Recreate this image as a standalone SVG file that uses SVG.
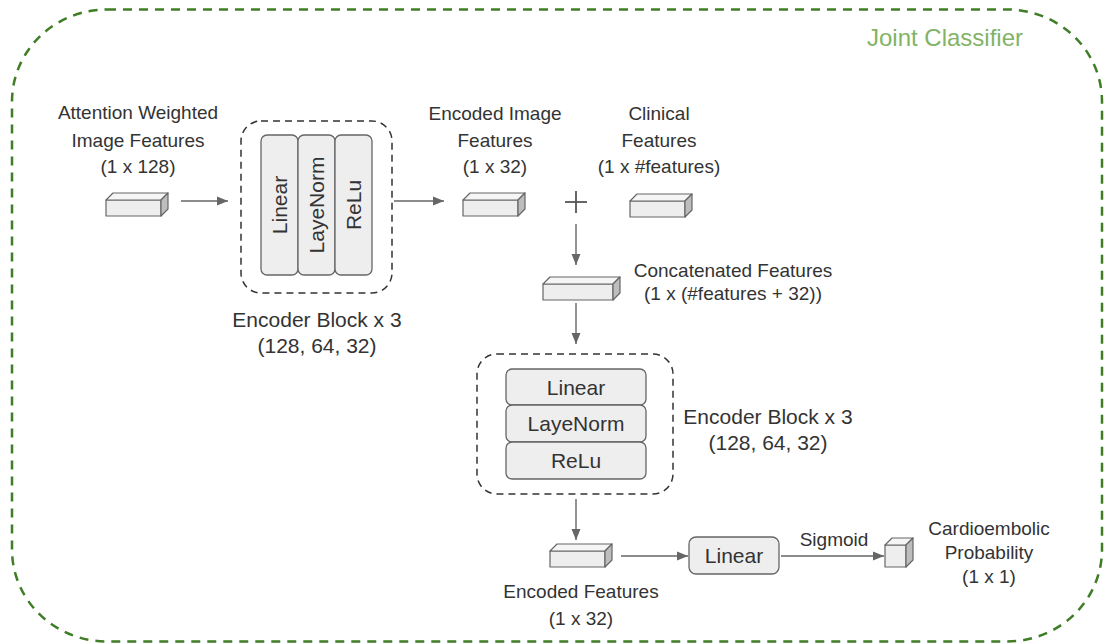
<svg xmlns="http://www.w3.org/2000/svg" xmlns:xlink="http://www.w3.org/1999/xlink" width="1105" height="644" viewBox="0 0 1105 644">
<style>
.lbl{font-family:"Liberation Sans",Arial,Helvetica,sans-serif;font-size:19px;fill:#333333;text-anchor:middle}
.big{font-size:21px}
.bt{font-size:21px}
.bar{fill:#eeeeee;stroke:#666666;stroke-width:1.3}
.dash{fill:none;stroke:#333333;stroke-width:1.5;stroke-dasharray:7 5}
.conn{fill:none;stroke:#666666;stroke-width:1.4}
.front{fill:#eeeeee;stroke:#666666;stroke-width:1.2;stroke-linejoin:round}
.top{fill:#f5f5f5;stroke:#666666;stroke-width:1.2;stroke-linejoin:round}
.side{fill:#bdbdbd;stroke:#666666;stroke-width:1.2;stroke-linejoin:round}
</style>
<defs>
<marker id="ah" markerWidth="12" markerHeight="10" refX="11" refY="5" orient="auto" markerUnits="userSpaceOnUse">
<path d="M0,0.5 L11,5 L0,9.5 Z" fill="#666666"/>
</marker>
<g id="cub">
<rect class="front" x="0" y="7" width="55" height="16"/>
<path class="top" d="M0,7 L7,0 L62,0 L55,7 Z"/>
<path class="side" d="M55,7 L62,0 L62,16 L55,23 Z"/>
</g>
<g id="cubL">
<rect class="front" x="0" y="7" width="70" height="16"/>
<path class="top" d="M0,7 L7,0 L77,0 L70,7 Z"/>
<path class="side" d="M70,7 L77,0 L77,16 L70,23 Z"/>
</g>
<g id="cubS">
<rect class="front" x="0" y="7" width="21" height="22"/>
<path class="top" d="M0,7 L7,0 L28,0 L21,7 Z"/>
<path class="side" d="M21,7 L28,0 L28,22 L21,29 Z"/>
</g>
</defs>
<rect width="1105" height="644" fill="#ffffff"/>

<g id="joint-classifier">
<rect x="12" y="9.5" width="1090" height="632" rx="95" ry="92" fill="none" stroke="#3f7d26" stroke-width="2.5" stroke-dasharray="9 7"/>
<text x="1023" y="46" style="font-family:'Liberation Sans',Arial,sans-serif;font-size:24px;fill:#82b366;text-anchor:end">Joint Classifier</text>
</g>

<g id="connectors">
<line class="conn" x1="181" y1="201" x2="228" y2="201" marker-end="url(#ah)"/>
<line class="conn" x1="394" y1="201" x2="444" y2="201" marker-end="url(#ah)"/>
<line class="conn" x1="576" y1="224" x2="576" y2="265" marker-end="url(#ah)"/>
<line class="conn" x1="576" y1="303" x2="576" y2="344" marker-end="url(#ah)"/>
<line class="conn" x1="576" y1="499" x2="576" y2="540" marker-end="url(#ah)"/>
<line class="conn" x1="621" y1="556" x2="688" y2="556" marker-end="url(#ah)"/>
<line class="conn" x1="781" y1="556" x2="884" y2="556" marker-end="url(#ah)"/>
<text class="lbl" x="834" y="546">Sigmoid</text>
</g>

<g id="image-features">
<use xlink:href="#cub" transform="translate(106,193)"/>
<text class="lbl" x="138" y="119">Attention Weighted</text>
<text class="lbl" x="138" y="147">Image Features</text>
<text class="lbl" x="138" y="173">(1 x 128)</text>
</g>

<g id="encoder-block-1">
<rect class="dash" x="241" y="121" width="151" height="172" rx="20" ry="20"/>
<rect class="bar" x="261" y="135" width="37" height="140" rx="6"/>
<rect class="bar" x="298" y="135" width="37" height="140" rx="6"/>
<rect class="bar" x="335" y="135" width="37" height="140" rx="6"/>
<text class="lbl bt" x="279.5" y="212.5" transform="rotate(-90 279.5 205)">Linear</text>
<text class="lbl bt" x="316.5" y="212.5" transform="rotate(-90 316.5 205)">LayeNorm</text>
<text class="lbl bt" x="353.5" y="212.5" transform="rotate(-90 353.5 205)">ReLu</text>
<text class="lbl big" x="317" y="327">Encoder Block x 3</text>
<text class="lbl big" x="317" y="353">(128, 64, 32)</text>
</g>

<g id="encoded-image-features">
<use xlink:href="#cub" transform="translate(463,193)"/>
<text class="lbl" x="495" y="120">Encoded Image</text>
<text class="lbl" x="495" y="147">Features</text>
<text class="lbl" x="495" y="173">(1 x 32)</text>
</g>

<g id="plus">
<line x1="565" y1="202" x2="587" y2="202" stroke="#555555" stroke-width="1.8"/>
<line x1="576" y1="191" x2="576" y2="213" stroke="#555555" stroke-width="1.8"/>
</g>

<g id="clinical-features">
<use xlink:href="#cub" transform="translate(630,194)"/>
<text class="lbl" x="659" y="120">Clinical</text>
<text class="lbl" x="659" y="147">Features</text>
<text class="lbl" x="659" y="173">(1 x #features)</text>
</g>

<g id="concatenated-features">
<use xlink:href="#cubL" transform="translate(543,277)"/>
<text class="lbl" x="733" y="277">Concatenated Features</text>
<text class="lbl" x="733" y="300">(1 x (#features + 32))</text>
</g>

<g id="encoder-block-2">
<rect class="dash" x="477" y="354" width="196" height="140" rx="20" ry="20"/>
<rect class="bar" x="506" y="369" width="140" height="36" rx="6"/>
<rect class="bar" x="506" y="405" width="140" height="37" rx="6"/>
<rect class="bar" x="506" y="442" width="140" height="37" rx="6"/>
<text class="lbl bt" x="576" y="394.5">Linear</text>
<text class="lbl bt" x="576" y="431">LayeNorm</text>
<text class="lbl bt" x="576" y="468">ReLu</text>
<text class="lbl big" x="768" y="424">Encoder Block x 3</text>
<text class="lbl big" x="768" y="450">(128, 64, 32)</text>
</g>

<g id="encoded-features">
<use xlink:href="#cub" transform="translate(550,544)"/>
<text class="lbl" x="581" y="598">Encoded Features</text>
<text class="lbl" x="581" y="625">(1 x 32)</text>
</g>

<g id="linear">
<rect class="bar" x="689" y="537" width="90" height="37" rx="7"/>
<text class="lbl big" x="734" y="563">Linear</text>
</g>

<g id="probability">
<use xlink:href="#cubS" transform="translate(885,538)"/>
<text class="lbl" x="989" y="535">Cardioembolic</text>
<text class="lbl" x="989" y="559">Probability</text>
<text class="lbl" x="989" y="583">(1 x 1)</text>
</g>
</svg>
